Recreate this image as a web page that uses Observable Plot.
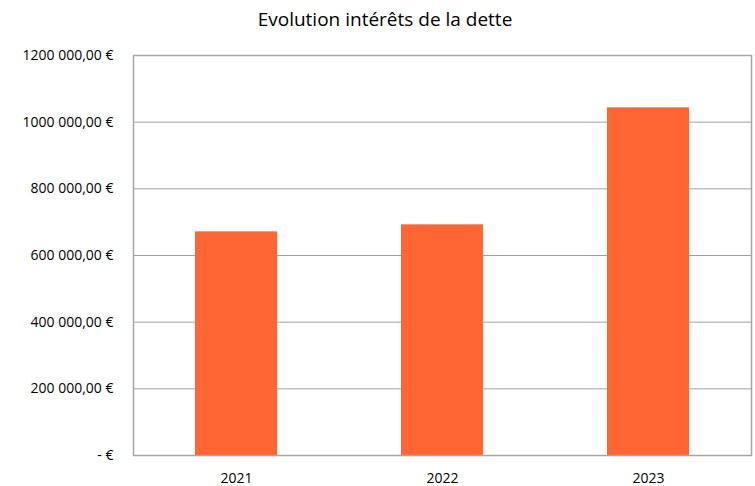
<!DOCTYPE html>
<html>
<head>
<meta charset="utf-8">
<script src="https://cdn.jsdelivr.net/npm/d3@7"></script>
<script src="https://cdn.jsdelivr.net/npm/@observablehq/plot@0.6"></script>
<style>
  html, body { margin: 0; padding: 0; background: #fff; }
  #title { height: 40px; line-height: 38px; text-align: center; font-family: "Liberation Sans Narrow", "Open Sans", sans-serif; font-size: 19px; color: #000; padding-left: 15px; box-sizing: border-box; }
  svg { display: block; }
</style>
</head>
<body>
<div id="title">Evolution intérêts de la dette</div>
<div id="chart"></div>
<script>
const years = ["2021", "2022", "2023"];
const interets = [671000, 692000, 1043000];
const yTicks = [0, 200000, 400000, 600000, 800000, 1000000, 1200000];
const yTickLabels = ["- €", "200 000,00 €", "400 000,00 €", "600 000,00 €", "800 000,00 €", "1000 000,00 €", "1200 000,00 €"];

const data = years.map((y, i) => ({year: y, value: interets[i]}));

const chart = Plot.plot({
  width: 755,
  height: 446,
  marginTop: 15,
  marginBottom: 31,
  marginLeft: 133,
  marginRight: 4,
  style: {fontFamily: "'Liberation Sans Narrow', 'Open Sans', sans-serif", fontSize: "14px", color: "#000"},
  x: {domain: years, paddingInner: 0.6, paddingOuter: 0.3, label: null, tickSize: 0, tickPadding: 18},
  y: {domain: [0, 1200000], ticks: yTicks, tickFormat: (d) => yTickLabels[yTicks.indexOf(d)], label: null, tickSize: 0, tickPadding: 20},
  marks: [
    Plot.gridY(yTicks, {stroke: "#a0a0a0", strokeOpacity: 1, strokeWidth: 1}),
    Plot.barY(data, {x: "year", y: "value", fill: "#ff6633"}),
    Plot.frame({stroke: "#a6a6a6", strokeWidth: 1.5})
  ]
});
document.getElementById("chart").appendChild(chart);
</script>
</body>
</html>
